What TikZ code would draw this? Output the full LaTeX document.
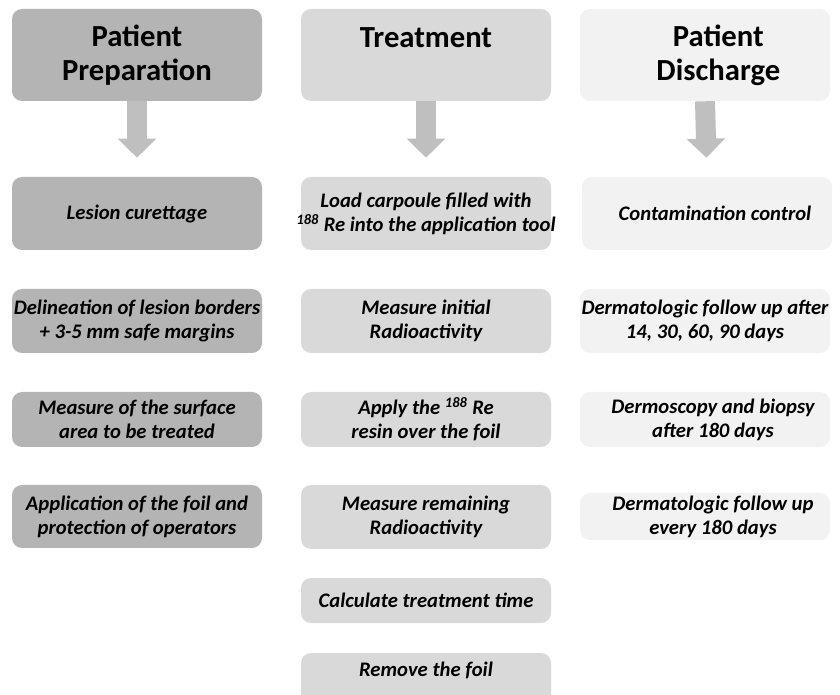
\documentclass[tikz,border=0pt]{standalone}
\usepackage{fontspec}
\setmainfont{Carlito}
\usepackage{xcolor}
\definecolor{prepgray}{HTML}{B4B4B4}
\definecolor{treatgray}{HTML}{D9D9D9}
\definecolor{dischgray}{HTML}{F2F2F2}
\definecolor{arrowgray}{HTML}{BFBFBF}
\usepackage{tikz}
\usetikzlibrary{arrows.meta}

\begin{document}
\begin{tikzpicture}[x=0.75pt,y=-0.75pt,
    head/.style={rounded corners=7.5pt,minimum width=187.5pt,minimum height=69pt,
      align=center,inner sep=0pt,font=\fontsize{23}{25.5}\selectfont\bfseries},
    stepbox/.style={rounded corners=7.5pt,minimum width=187.5pt,align=center,inner sep=0pt,
      font=\fontsize{15.5}{18}\selectfont\bfseries\itshape},
    down/.style={arrowgray,line width=15pt,shorten >=14.25pt,
      -{Triangle[width=28pt,length=14.25pt]}}]
  \clip (0,0) rectangle (840,695);
  \fill[white] (0,0) rectangle (840,695);
  % headers
  \node[head,fill=prepgray](prep) at (137,55) {Patient\\Preparation};
  \node[head,fill=treatgray](treat) at (426,55) {Treatment\\\mbox{}};
  \node[head,fill=dischgray](disch) at (705,55) {\hspace*{20pt}Patient\\\hspace*{20pt}Discharge};
  % patient preparation
  \node[stepbox,fill=prepgray,minimum height=54.75pt](curet) at (137,213.5) {Lesion curettage};
  \node[stepbox,fill=prepgray,minimum height=48pt](delin) at (137,321) {Delineation of lesion borders\\+ 3-5 mm safe margins};
  \node[stepbox,fill=prepgray,minimum height=41.25pt](surf) at (137,419.5) {Measure of the surface\\area to be treated};
  \node[stepbox,fill=prepgray,minimum height=47.25pt](foil) at (137,516.5) {Application of the foil and\\protection of operators};
  % treatment
  \node[stepbox,fill=treatgray,minimum height=54.75pt](load) at (426,213.5)
    {\makebox[180pt]{Load carpoule filled with}\\\makebox[180pt]{\textsuperscript{188} Re into the application tool}};
  \node[stepbox,fill=treatgray,minimum height=48pt](initial) at (426,321) {Measure initial\\Radioactivity};
  \node[stepbox,fill=treatgray,minimum height=41.25pt](apply) at (426,419.5) {Apply the \textsuperscript{188} Re\\resin over the foil};
  \node[stepbox,fill=treatgray,minimum height=48pt](remain) at (426,517) {Measure remaining\\Radioactivity};
  \node[stepbox,fill=treatgray,minimum height=33.75pt](calc) at (426,600.5) {Calculate treatment time};
  \node[stepbox,fill=treatgray,minimum height=46.5pt,text depth=24pt,text height=12pt](remove) at (426,684) {Remove the foil};
  % patient discharge
  \node[stepbox,fill=dischgray,minimum height=54.75pt](contam) at (707,213.5) {\hspace*{12pt}Contamination control};
  \node[stepbox,fill=dischgray,minimum height=48pt](follow) at (705,321) {Dermatologic follow up after\\14, 30, 60, 90 days};
  \node[stepbox,fill=dischgray,minimum height=41.25pt](dermo) at (705,419.5) {\hspace*{12pt}Dermoscopy and biopsy\\\hspace*{12pt}after 180 days};
  \node[stepbox,fill=dischgray,minimum height=35.25pt](every) at (705,516.5) {\hspace*{12pt}Dermatologic follow up\\\hspace*{12pt}every 180 days};
  % arrows
  \draw[down] (prep.south) -- (curet.north);
  \draw[down] (treat.south) -- (load.north);
  \draw[down] (disch.south) -- (contam.north);
\end{tikzpicture}
\end{document}
